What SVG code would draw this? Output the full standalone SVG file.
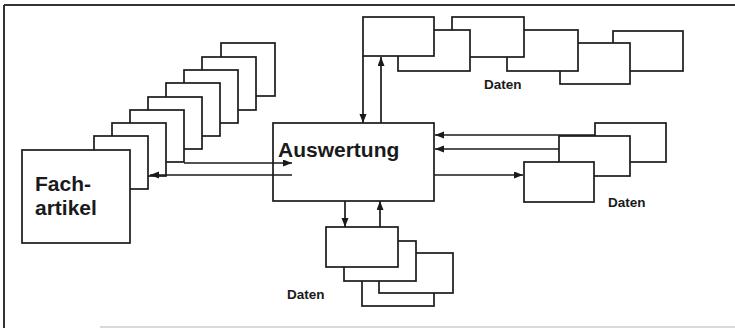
<svg xmlns="http://www.w3.org/2000/svg" width="735" height="328" viewBox="0 0 735 328">
<defs>
<marker id="ah" markerWidth="10" markerHeight="8" refX="9" refY="3.5" orient="auto" markerUnits="userSpaceOnUse">
<path d="M0,0 L9,3.5 L0,7 z" fill="#1a1a1a"/>
</marker>
<style>
.b{fill:#fff;stroke:#1a1a1a;stroke-width:1.7}
.c{fill:none;stroke:#1a1a1a;stroke-width:1.7}
.t{font-family:"Liberation Sans",Arial,sans-serif;font-weight:bold;fill:#1a1a1a}
.big{font-size:21px}
.sm{font-size:13.5px}
</style>
</defs>
<rect width="735" height="328" fill="#fff"/>
<g id="frame">
<line x1="4" y1="5" x2="735" y2="5" stroke="#333" stroke-width="2"/>
<line x1="4" y1="5" x2="4" y2="328" stroke="#333" stroke-width="2"/>
<line x1="100" y1="327" x2="735" y2="327" stroke="#ccc" stroke-width="1.5"/>
</g>
<g id="fachartikel-stack">
<rect class="b" x="221" y="43" width="54" height="53"/>
<rect class="b" x="202" y="57" width="54" height="53"/>
<rect class="b" x="184" y="70" width="54" height="53"/>
<rect class="b" x="166" y="83" width="54" height="53"/>
<rect class="b" x="148" y="97" width="54" height="52"/>
<rect class="b" x="130" y="110" width="54" height="52"/>
<rect class="b" x="112" y="123" width="54" height="53"/>
<rect class="b" x="94" y="136" width="54" height="53"/>
</g>
<g id="fachartikel">
<rect class="b" x="22" y="150" width="108" height="93"/>
<text class="t big" x="35" y="191">Fach-</text>
<text class="t big" x="35" y="215">artikel</text>
</g>
<g id="auswertung">
<rect class="b" x="273" y="123" width="161" height="78"/>
<text class="t big" x="278" y="157">Auswertung</text>
</g>
<g id="daten-top">
<rect class="b" x="613" y="31" width="70" height="40"/>
<rect class="b" x="560" y="43" width="70" height="41"/>
<rect class="b" x="507" y="30" width="71" height="41"/>
<rect class="b" x="452" y="17" width="72" height="40"/>
<rect class="b" x="398" y="30" width="72" height="41"/>
<rect class="b" x="363" y="17" width="71" height="39"/>
<text class="t sm" x="484" y="89">Daten</text>
</g>
<g id="daten-right">
<rect class="b" x="595" y="123" width="71" height="39"/>
<rect class="b" x="559" y="136" width="71" height="40"/>
<rect class="b" x="524" y="162" width="70" height="40"/>
<text class="t sm" x="608" y="207">Daten</text>
</g>
<g id="daten-bottom">
<rect class="b" x="362" y="266" width="72" height="40"/>
<rect class="b" x="379" y="253" width="74" height="40"/>
<rect class="b" x="344" y="241" width="72" height="40"/>
<rect class="b" x="326" y="227" width="72" height="40"/>
<text class="t sm" x="287" y="299">Daten</text>
</g>
<g id="connectors">
<line class="c" x1="184" y1="163" x2="292" y2="163" marker-end="url(#ah)"/>
<line class="c" x1="292" y1="175" x2="150" y2="175" marker-end="url(#ah)"/>
<line class="c" x1="363" y1="56" x2="363" y2="123" marker-end="url(#ah)"/>
<line class="c" x1="381" y1="123" x2="381" y2="57" marker-end="url(#ah)"/>
<line class="c" x1="345" y1="201" x2="345" y2="227" marker-end="url(#ah)"/>
<line class="c" x1="380" y1="227" x2="380" y2="201" marker-end="url(#ah)"/>
<line class="c" x1="595" y1="135" x2="435" y2="135" marker-end="url(#ah)"/>
<line class="c" x1="559" y1="149" x2="435" y2="149" marker-end="url(#ah)"/>
<line class="c" x1="434" y1="175" x2="523" y2="175" marker-end="url(#ah)"/>
</g>
</svg>
